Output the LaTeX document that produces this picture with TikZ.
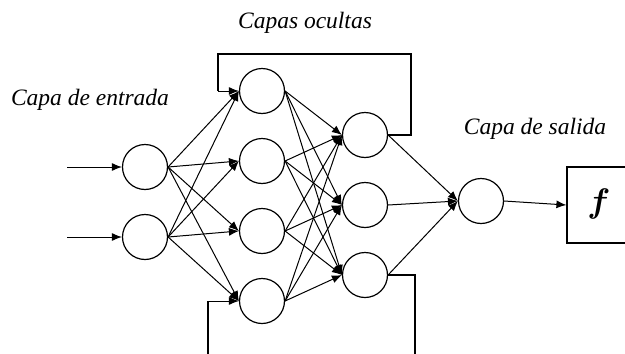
\documentclass[tikz,border=0pt]{standalone}
\usepackage{bm}
\usepackage{fontspec}
\setmainfont{Liberation Serif}
\usetikzlibrary{arrows.meta}
\begin{document}
\begin{tikzpicture}[x=1pt,y=-1pt,
  neuron/.style={circle,draw,line width=1.2pt,minimum size=45pt,inner sep=0pt},
  link/.style={line width=1pt,-{Latex[length=10pt,width=8pt]}},
  wire/.style={line width=1.2pt},
  caption/.style={font=\itshape\fontsize{23.5}{25}\selectfont,inner sep=0pt}]
\useasboundingbox (0,0) rectangle (625,354);
\clip (0,0) rectangle (625,354);

% layers
\node[neuron] (in1) at (145,167) {};
\node[neuron] (in2) at (145,237) {};
\foreach \k/\y in {1/91,2/161,3/231,4/301}
  \node[neuron] (ha\k) at (262,\y) {};
\foreach \k/\y in {1/135,2/205,3/275}
  \node[neuron] (hb\k) at (365,\y) {};
\node[neuron] (out) at (481,201) {};
\node[draw,line width=1.2pt,minimum width=70pt,minimum height=76pt,inner sep=0pt] (fbox) at (602,205) {};
\node[inner sep=0pt] (fsym) at (599,204) {\scalebox{3.4}{$\bm{f}$}};

% captions
\node[caption] (capin) at (90,100) {Capa de entrada};
\node[caption] (caphid) at (305,23) {Capas ocultas};
\node[caption] (capout) at (535,129) {Capa de salida};

% external inputs
\coordinate (x1) at (67,167);
\coordinate (x2) at (67,237);
\draw[link] (x1) -- (in1.west);
\draw[link] (x2) -- (in2.west);

% full connections
\foreach \i in {1,2}
  \foreach \j in {1,...,4}
    \draw[link] (in\i.east) -- (ha\j.west);
\foreach \i in {1,...,4}
  \foreach \j in {1,2,3}
    \draw[link] (ha\i.east) -- (hb\j.west);
\foreach \i in {1,2,3}
  \draw[link] (hb\i.east) -- (out.west);
\draw[link] (out.east) -- (fbox.west);

% recurrent loops
\coordinate (t1) at (411,135);
\coordinate (t2) at (411,54);
\coordinate (t3) at (218,54);
\coordinate (t4) at (218,91);
\draw[wire] (hb1.east) -- (t1) -- (t2) -- (t3) -- (t4);
\draw[link] (t4) -- (ha1.west);
\coordinate (b1) at (415,275);
\coordinate (b2) at (415,360);
\draw[wire] (hb3.east) -- (b1) -- (b2);
\coordinate (b3) at (208,360);
\coordinate (b4) at (208,301);
\draw[wire] (b3) -- (b4);
\draw[link] (b4) -- (ha4.west);
\end{tikzpicture}
\end{document}
